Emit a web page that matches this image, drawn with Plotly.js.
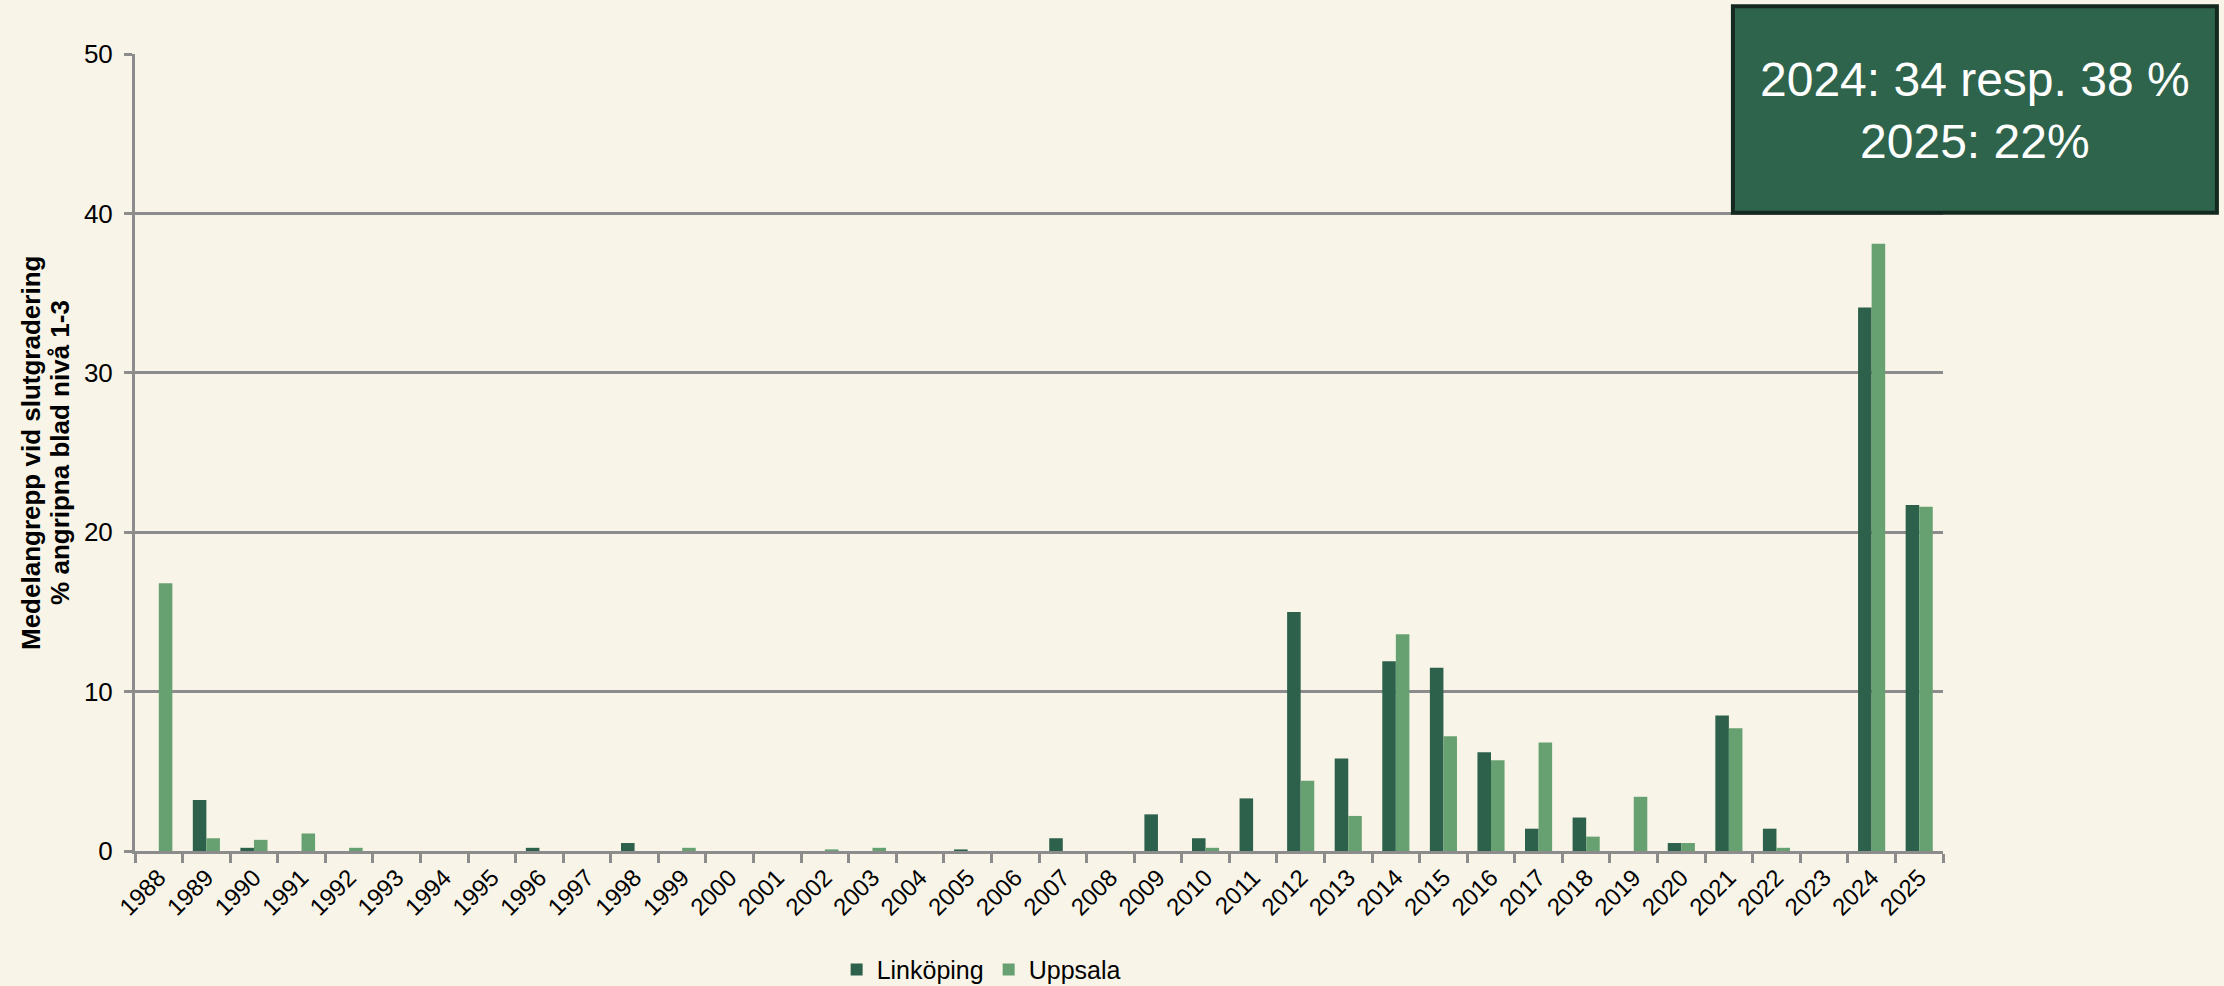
<!DOCTYPE html>
<html>
<head>
<meta charset="utf-8">
<script src="https://cdn.plot.ly/plotly-3.0.1.min.js"></script>
<style>
html,body{margin:0;padding:0;background:#F8F5E8;}
#chart{width:2224px;height:986px;}
</style>
</head>
<body>
<div id="chart"></div>
<script>
const years = ["1988","1989","1990","1991","1992","1993","1994","1995","1996","1997","1998","1999","2000","2001","2002","2003","2004","2005","2006","2007","2008","2009","2010","2011","2012","2013","2014","2015","2016","2017","2018","2019","2020","2021","2022","2023","2024","2025"];
const linkoping = [0,3.2,0.2,0,0,0,0,0,0.2,0,0.5,0,0,0,0,0,0,0.1,0,0.8,0,2.3,0.8,3.3,15.0,5.8,11.9,11.5,6.2,1.4,2.1,0,0.5,8.5,1.4,0,34.1,21.7];
const uppsala = [16.8,0.8,0.7,1.1,0.2,0,0,0,0,0,0,0.2,0,0,0.1,0.2,0,0,0,0,0,0,0.2,0,4.4,2.2,13.6,7.2,5.7,6.8,0.9,3.4,0.5,7.7,0.2,0,38.1,21.6];
const seriesNames = ["Linköping","Uppsala"];
const yTitleLines = ["Medelangrepp vid slutgradering","% angripna blad nivå 1-3"];
const noteLines = ["2024: 34 resp. 38 %","2025: 22%"];

const traces = [
  {type:"bar", name:seriesNames[0], x:years, y:linkoping, marker:{color:"#2D614B"}},
  {type:"bar", name:seriesNames[1], x:years, y:uppsala, marker:{color:"#67A172"}}
];

const sans = "'Liberation Sans', Arial, sans-serif";
const narrow = "'Liberation Sans Narrow', 'Arial Narrow', 'Liberation Sans', Arial, sans-serif";

const layout = {
  width:2224, height:986,
  paper_bgcolor:"#F8F5E8", plot_bgcolor:"#F8F5E8",
  margin:{l:135, r:281, t:54, b:135, autoexpand:false},
  barmode:"group", bargap:0.43, bargroupgap:0,
  font:{family:sans, color:"#000"},
  xaxis:{
    type:"category", tickangle:-45, tickson:"boundaries",
    ticks:"outside", ticklen:9, tickwidth:3, tickcolor:"#8C8C8C",
    showline:true, linecolor:"#8C8C8C", linewidth:3,
    showgrid:false, tickfont:{size:24, family:sans},
    automargin:false
  },
  yaxis:{
    range:[0,50], dtick:10, tick0:0,
    ticks:"outside", ticklen:8, tickwidth:3, tickcolor:"#8C8C8C",
    showline:true, linecolor:"#8C8C8C", linewidth:3,
    showgrid:true, gridcolor:"#8C8C8C", gridwidth:3,
    zeroline:false,
    tickfont:{size:26, family:sans},
    ticklabelstandoff:6, automargin:false
  },
  legend:{orientation:"h", x:0.468, xanchor:"center", y:-0.149, yanchor:"middle",
    font:{size:25, family:sans}, bgcolor:"rgba(0,0,0,0)", itemwidth:30},
  shapes:[
    {type:"rect", xref:"paper", yref:"paper", x0:0.8838, x1:1.1515, y0:0.8008, y1:1.060,
     fillcolor:"#2E634C", line:{color:"#13291F", width:4}, layer:"above"}
  ],
  annotations:[
    {xref:"paper", yref:"paper", x:1.0177, y:0.9286, xanchor:"center", yanchor:"middle",
     text:noteLines.join("<br>"), showarrow:false, align:"center",
     font:{size:48, color:"#FFFFFF", family:narrow}},
    {xref:"paper", yref:"paper", x:-0.0578, y:0.5, xanchor:"center", yanchor:"middle",
     text:"<b>"+yTitleLines[0]+"</b>", textangle:-90, showarrow:false,
     font:{size:26, family:sans}},
    {xref:"paper", yref:"paper", x:-0.0418, y:0.5, xanchor:"center", yanchor:"middle",
     text:"<b>"+yTitleLines[1]+"</b>", textangle:-90, showarrow:false,
     font:{size:26, family:sans}}
  ]
};

Plotly.newPlot("chart", traces, layout, {displayModeBar:false, staticPlot:true});
</script>
</body>
</html>
